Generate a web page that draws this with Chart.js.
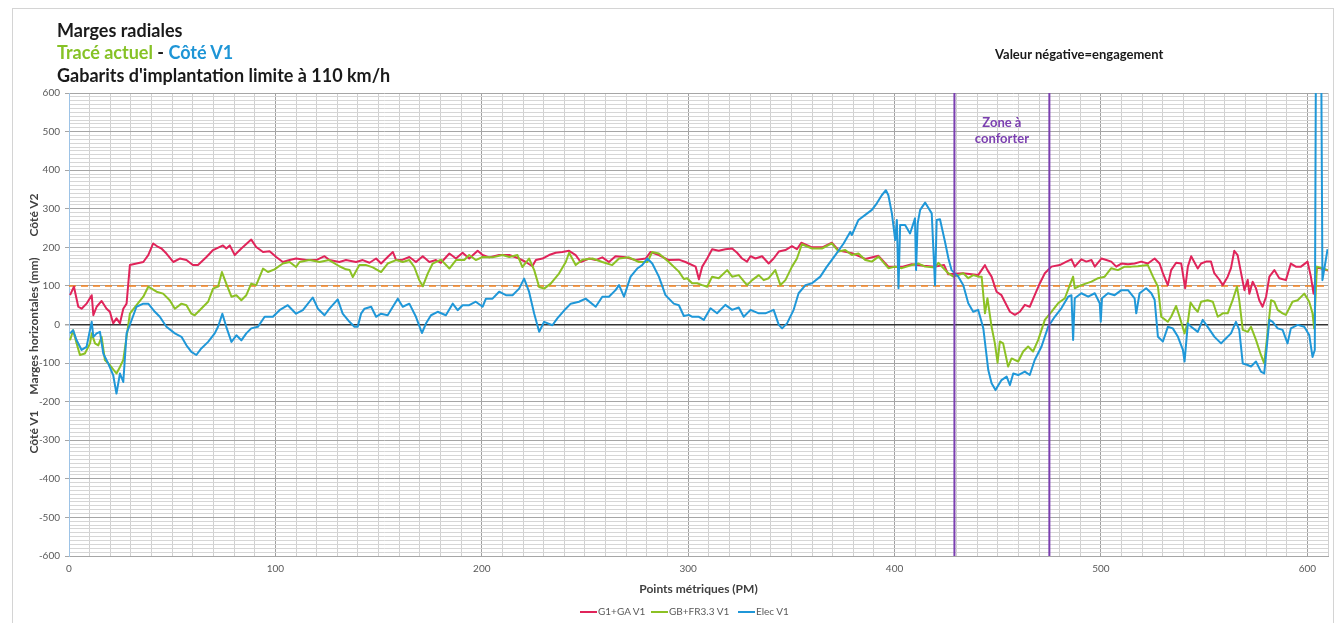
<!DOCTYPE html>
<html>
<head>
<meta charset="utf-8">
<script src="https://cdn.jsdelivr.net/npm/chart.js@4"></script>
<style>
  html, body { margin: 0; padding: 0; background: #fff; }
  #wrap { position: relative; width: 1335px; height: 623px; font-family: Lato, sans-serif; }
  #frame { position: absolute; left: 12px; top: 8px; width: 1320px; height: 620px; border-left: 1px solid #d4d4d4; border-top: 1px solid #d4d4d4; border-right: 1px solid #d4d4d4; }
  .title { position: absolute; left: 57px; font-weight: bold; font-size: 18px; line-height: 22px; color: #1a1a1a; white-space: nowrap; }
  .note { position: absolute; left: 995px; top: 46px; font-weight: bold; font-size: 13px; color: #1a1a1a; }
  .ytitle { position: absolute; font-weight: bold; font-size: 12px; color: #404040; white-space: nowrap; transform: translate(-50%, -50%) rotate(-90deg); }
  .leg { position: absolute; top: 605px; font-size: 10px; color: #595959; white-space: nowrap; line-height: 12px; }
  .leg span { display: inline-block; width: 17px; height: 2px; vertical-align: middle; margin-right: 1px; }
  canvas { position: absolute; left: 0; top: 0; }
</style>
</head>
<body>
<div id="wrap">
  <div id="frame"></div>
  <canvas id="chart" width="1335" height="623"></canvas>
  <div class="title" style="top:19px">Marges radiales</div>
  <div class="title" style="top:41px"><span style="color:#86c226">Tracé actuel</span> - <span style="color:#1e95d6">Côté V1</span></div>
  <div class="title" style="top:64px">Gabarits d'implantation limite à 110 km/h</div>
  <div class="note">Valeur négative=engagement</div>
  <div class="ytitle" style="left:33px; top:215px">Côté V2</div>
  <div class="ytitle" style="left:33px; top:326px">Marges horizontales (mm)</div>
  <div class="ytitle" style="left:33px; top:432px">Côté V1</div>
  <div class="leg" style="left:580px"><span style="background:#e0245a"></span>G1+GA V1</div>
  <div class="leg" style="left:651px"><span style="background:#8cc124"></span>GB+FR3.3 V1</div>
  <div class="leg" style="left:738px"><span style="background:#1f97d8"></span>Elec V1</div>
</div>
<script>
// axis ranges
const xMin = 0, xMax = 610;
const yMin = -600, yMax = 600;
const threshold = 100;
const zoneStart = 429, zoneEnd = 475;

// G1+GA V1
const redPM = [0.5, 2.4, 4.5, 6.1, 8.5, 11, 11.8, 13.4, 15.8, 18.2, 19.8, 21.4, 23, 24.7, 26.3, 27.9, 29.5, 32.7, 36, 38.4,
  40.8, 43.2, 44.8, 47.2, 50.5, 53.7, 56.9, 60, 62.5, 66.6, 69.8, 74.6, 76.2, 77.9, 80.3, 83.5, 88.3, 90.7, 94, 97.2,
  100.4, 103.6, 106.9, 110, 114.9, 119.8, 123.8, 126.2, 131, 134.2, 139.1, 142.3, 145.6, 148.8, 151.2, 154.4, 156.9, 158.5, 161.7, 164.9,
  168.1, 171.4, 174.6, 177.8, 180.2, 184.3, 187.5, 190.7, 193.9, 198, 200.4, 203.6, 208.4, 213.3, 218.1, 221.3, 224.5, 226.2, 229.4, 232.6,
  235.8, 239, 242.3, 245.5, 247.9, 252, 255.2, 258.4, 261.6, 264.8, 269.7, 274.5, 279.4, 281.8, 285.8, 290.6, 295.5, 298.7, 303.6, 305.2,
  306.8, 309.2, 311.6, 314.8, 318, 321.3, 323.7, 326.1, 328.5, 330.2, 332.6, 335.8, 339, 341.4, 343.9, 347.1, 350.3, 352.7, 354.8, 360,
  365, 369.6, 372.9, 379.3, 385.8, 392.2, 397, 404, 408.3, 414, 419.6, 424, 426, 433, 440.5, 443.8, 445, 447, 449.4, 451.8,
  453.4, 455.9, 458.3, 460.7, 463.1, 465.5, 467.9, 470.4, 472.8, 476, 480, 483.3, 485.7, 487.3, 490.5, 492.9, 495.4, 497, 500.2, 502.6,
  505, 507.4, 509.9, 513.1, 516.3, 519.5, 522.7, 526, 528.4, 530, 532.4, 534, 536.4, 538.9, 540.8, 542.1, 543.7, 546.9, 548.5, 550.9,
  553.3, 554.9, 557.4, 559, 561.4, 563, 564.6, 566.2, 567.9, 569.5, 571.1, 571.9, 573.5, 575.1, 576.7, 578.3, 580, 581.6, 584, 586.4,
  589.6, 592, 594.4, 596.9, 600.1, 601.7, 603, 604.6, 610];
const redVal = [76, 98, 46, 41, 54, 76, 24, 46, 61, 41, 33, 3, 16, 3, 41, 54, 154, 158, 162, 180,
  210, 201, 197, 184, 162, 171, 167, 154, 154, 175, 193, 205, 197, 205, 180, 197, 220, 201, 188, 190,
  175, 162, 167, 171, 167, 167, 177, 167, 162, 167, 162, 167, 160, 171, 158, 175, 188, 167, 168, 175,
  162, 177, 162, 167, 160, 184, 171, 186, 171, 191, 180, 174, 180, 180, 171, 162, 151, 167, 171, 180,
  186, 188, 191, 180, 162, 171, 167, 174, 162, 177, 174, 167, 171, 188, 180, 167, 168, 162, 150, 117,
  150, 171, 195, 191, 195, 197, 186, 171, 163, 177, 171, 177, 158, 171, 189, 193, 203, 195, 212, 200,
  200, 212, 192, 185, 170, 178, 150, 150, 156, 152, 150, 154, 130, 133, 128, 154, 141, 124, 85, 76,
  59, 33, 25, 33, 51, 46, 76, 107, 133, 150, 154, 163, 169, 150, 169, 163, 167, 150, 171, 167,
  163, 150, 158, 156, 158, 163, 158, 171, 158, 133, 102, 141, 160, 158, 94, 150, 177, 145, 158, 163,
  163, 133, 116, 102, 124, 146, 191, 180, 133, 89, 116, 80, 111, 94, 63, 46, 72, 124, 141, 120,
  115, 158, 150, 150, 163, 124, 80, 148, 140];

// GB+FR3.3 V1
const greenPM = [0.5, 2, 3.7, 5.3, 7.7, 10.2, 11, 12.6, 14.2, 15.8, 17.4, 19.8, 23, 24.7, 26.3, 27.9, 29.5, 32.7, 36, 38.4,
  42.4, 45.6, 48.8, 51.3, 54.5, 56.9, 59.3, 60.9, 65, 67.4, 69.8, 72.2, 74.1, 76.2, 78.7, 81.1, 83.5, 85.9, 88.3, 90.7,
  94, 96.4, 99.6, 103.6, 106.9, 110, 111.7, 116.5, 121.4, 126, 131, 134.2, 136, 137.5, 140.7, 144, 147.2, 151.2, 154.4, 158.5,
  161.7, 164.9, 167.3, 169.7, 171.4, 173.8, 176.2, 180.2, 184.3, 187.5, 191.5, 193.9, 197.1, 200.4, 205.2, 210, 213.3, 217.3, 219.7, 222.9,
  225.4, 227.8, 230.2, 233.4, 237.4, 240.7, 242.3, 245.5, 248.7, 253.6, 258.4, 263.2, 266.5, 271.3, 276.1, 280.2, 282.6, 285.8, 290.6, 295.5,
  297.9, 299.5, 301.9, 304.3, 306.8, 309.2, 311.6, 314.8, 318.9, 321.3, 324.5, 328.5, 331, 334.2, 336.6, 339, 342.2, 344.7, 347.1, 350.3,
  352.7, 355.1, 360, 364.8, 369.6, 372.9, 376.1, 379.3, 382.5, 385.8, 389, 392.2, 397, 400.3, 403.5, 408.3, 411.6, 414.8, 419.6, 421.2,
  423.6, 426, 428.5, 430.9, 433.3, 435.7, 438.1, 440.5, 442.2, 443.8, 445, 447, 448.6, 449.9, 451, 452.6, 455, 456.7, 459.9, 462.3,
  464.7, 467.1, 469.6, 472.8, 476, 479.2, 482.5, 484.9, 486.5, 487.3, 490.5, 495.4, 498.6, 501.8, 505, 508.2, 511.5, 514.7, 517.9, 522.7,
  525.2, 527.6, 529.2, 532.4, 534, 536.4, 538.1, 540.5, 542.1, 543.4, 545.3, 546.9, 548.5, 551.7, 554.2, 556.6, 559, 561.4, 563.8, 565.9,
  567, 568.7, 571.1, 572.7, 575.1, 577.5, 579.1, 580.7, 582.4, 584, 585.6, 588, 589.6, 592.8, 595.3, 598.5, 600.9, 602.5, 603.3, 604.6,
  607.3, 609.8];
const greenVal = [-41, -15, -49, -79, -75, -49, -23, -49, -54, -32, -92, -105, -127, -110, -92, -32, 28, 50, 72, 98,
  85, 80, 63, 41, 54, 50, 28, 24, 46, 59, 93, 98, 136, 106, 72, 76, 63, 76, 106, 102,
  145, 136, 143, 158, 162, 149, 162, 167, 162, 167, 151, 143, 141, 123, 154, 154, 148, 136, 158, 167,
  162, 167, 149, 115, 99, 132, 158, 168, 145, 167, 167, 180, 167, 175, 174, 180, 175, 180, 149, 171,
  141, 97, 93, 106, 132, 162, 186, 154, 168, 171, 162, 154, 171, 174, 162, 162, 188, 184, 162, 137,
  118, 120, 107, 107, 102, 98, 124, 120, 141, 124, 128, 102, 115, 128, 115, 120, 141, 102, 115, 150,
  171, 208, 197, 197, 210, 189, 193, 180, 184, 167, 163, 176, 146, 150, 146, 154, 158, 150, 148, 160,
  146, 133, 124, 128, 133, 120, 128, 124, 124, 29, 68, -6, -49, -99, -44, -49, -109, -88, -96, -70,
  -57, -70, -40, 12, 33, 55, 68, 102, 124, 94, 102, 111, 120, 124, 146, 141, 150, 150, 151, 154,
  124, 98, 20, 7, 20, 48, 20, -23, 7, 57, 42, 33, 59, 63, 59, 20, 29, 29, 63, 98,
  63, -14, -19, -6, -40, -79, -101, -23, 63, 59, 38, 29, 25, 59, 63, 80, 59, 29, -10, 150,
  146, 141];

// Elec V1 (the spike near PM 605 runs off the top of the chart)
const bluePM = [0.5, 2, 3.7, 6.1, 8.5, 11, 11.8, 13.4, 15, 16.6, 19, 21.4, 23, 24.7, 26.3, 27.9, 30.3, 32.7, 36, 38.4,
  41.6, 44, 47.2, 51.3, 54.5, 56.9, 59.3, 61.7, 64.1, 67.4, 70.6, 72.2, 74.3, 76.2, 78.7, 81.1, 83.5, 85.9, 88.3, 91.5,
  94.8, 98.8, 102, 106, 110, 113.3, 118.1, 120.6, 123.8, 126.2, 130.2, 132.6, 135.9, 138.3, 139.9, 141.5, 143.2, 146.4, 148.8, 151.2,
  154.4, 156.9, 159.3, 161.7, 164.9, 168.1, 171, 173, 175.4, 178.6, 182.6, 185.9, 188.3, 190.7, 193.9, 197.1, 200.4, 202, 205.2, 208.4,
  211.7, 214.9, 218.1, 220.5, 222.9, 225.4, 227.8, 230.2, 234.2, 236.6, 240.7, 243.1, 247.1, 250.3, 255.2, 258.4, 261.6, 264.8, 266.5, 268.9,
  272.1, 275.3, 277.7, 280.2, 282.6, 285.8, 289, 293, 295.5, 297.9, 300.3, 302, 305.2, 307.6, 310.8, 314, 318, 321.3, 324.5, 326.9,
  330.2, 334.2, 337.4, 341.4, 343.9, 345.5, 347.9, 351.1, 353.5, 356.8, 360, 364, 367.2, 371.3, 375.3, 378.5, 379.3, 382.5, 385.8, 389,
  391.4, 393.8, 395.8, 397, 398.7, 400.3, 401.1, 401.9, 402.7, 405.1, 407.5, 409.9, 410.4, 411.2, 412.4, 414.8, 418, 419.6, 420.4, 422,
  424.4, 426.1, 427.6, 430.9, 433.3, 435.7, 438.1, 440.5, 443, 445.4, 447, 448.9, 451.8, 454.3, 455.9, 457.5, 459.9, 463.1, 465.5, 467.9,
  471.2, 474.4, 477.6, 480.8, 484.1, 485.7, 486.5, 487.3, 490.5, 493.8, 497, 499.4, 499.9, 500.5, 503.4, 506.6, 509.9, 513.1, 516.3, 517.1,
  518.7, 521.9, 524.4, 526, 527.6, 530, 532.4, 534.8, 537.3, 539.7, 540.5, 542.1, 543.7, 546.9, 549.3, 551.7, 555, 558.2, 559.8, 563,
  565.4, 567, 568.7, 571.1, 572.7, 575.1, 577.5, 579.1, 581.6, 583.2, 585.6, 588, 590.4, 592, 595.3, 598.5, 600.9, 602.5, 603.6, 604.3,
  606.5, 607.3, 609.8];
const blueVal = [-23, -15, -41, -66, -58, 7, -32, -23, -19, -75, -101, -131, -179, -127, -149, -23, 11, 46, 54, 54,
  33, 20, -6, -23, -32, -54, -71, -79, -62, -45, -23, -6, 28, -6, -45, -28, -41, -23, -10, -6,
  20, 20, 37, 50, 28, 37, 70, 41, 24, 41, 65, 28, 7, -6, -6, 28, 41, 46, 20, 28,
  24, 46, 67, 46, 54, 20, -22, 3, 24, 33, 24, 54, 37, 50, 50, 59, 46, 67, 67, 85,
  76, 76, 93, 119, 85, 28, -19, 7, -2, 16, 41, 54, 59, 67, 46, 72, 72, 89, 102, 72,
  124, 145, 154, 171, 158, 124, 76, 54, 50, 22, 25, 20, 20, 12, 42, 29, 51, 38, 44, 20,
  38, 29, 29, 38, -1, -10, 3, 38, 81, 102, 107, 124, 150, 180, 210, 240, 232, 271, 284, 297,
  314, 335, 348, 335, 288, 219, 271, 94, 258, 258, 236, 275, 141, 262, 297, 316, 288, 102, 271, 273,
  215, 171, 141, 124, 102, 55, 33, 38, -10, -118, -152, -170, -144, -135, -157, -127, -131, -122, -131, -92,
  -57, -6, 20, 42, 72, 76, -40, 68, 81, 72, 81, 55, 7, 68, 81, 76, 89, 89, 68, 29,
  81, 94, 81, 64, -32, -44, -6, -10, -32, -66, -96, 3, -6, -19, 12, -6, -32, -49, -40, -23,
  7, -14, -101, -105, -109, -96, -122, -127, 12, 7, -10, -14, -49, -10, -1, -6, -27, -84, -66, 900,
  900, 115, 195];

const toPoints = (pm, val) => pm.map((x, i) => ({ x: x, y: val[i] }));

const zoneLabel = {
  id: 'zoneLabel',
  afterDatasetsDraw(chart) {
    const { ctx, scales } = chart;
    const x = scales.x.getPixelForValue((zoneStart + zoneEnd) / 2);
    ctx.save();
    ctx.fillStyle = '#7b3fb0';
    ctx.font = 'bold 13px Lato';
    ctx.textAlign = 'center';
    ctx.textBaseline = 'middle';
    ctx.fillText('Zone à', x, scales.y.getPixelForValue(522));
    ctx.fillText('conforter', x, scales.y.getPixelForValue(481));
    ctx.restore();
  }
};

Chart.defaults.font.family = 'Lato';
Chart.defaults.color = '#595959';

new Chart(document.getElementById('chart').getContext('2d'), {
  type: 'line',
  data: {
    datasets: [
      { label: 'zone start', data: [{ x: zoneStart, y: yMin }, { x: zoneStart, y: yMax }], borderColor: '#7b3fb0', borderWidth: 2, order: 0 },
      { label: 'zone end', data: [{ x: zoneEnd, y: yMin }, { x: zoneEnd, y: yMax }], borderColor: '#7b3fb0', borderWidth: 2, order: 0 },
      { label: 'Elec V1', data: toPoints(bluePM, blueVal), borderColor: '#1f97d8', borderWidth: 2, order: 1 },
      { label: 'GB+FR3.3 V1', data: toPoints(greenPM, greenVal), borderColor: '#8cc124', borderWidth: 2, order: 2 },
      { label: 'G1+GA V1', data: toPoints(redPM, redVal), borderColor: '#e0245a', borderWidth: 2, order: 3 },
      { label: 'limite', data: [{ x: xMin, y: threshold }, { x: xMax, y: threshold }], borderColor: '#f5821f', borderWidth: 1.5, borderDash: [7, 5], order: 4 }
    ]
  },
  options: {
    responsive: false,
    animation: false,
    layout: { padding: { left: 0, right: 4, top: 93, bottom: 0 } },
    elements: { point: { radius: 0 }, line: { tension: 0, borderJoinStyle: 'round' } },
    plugins: { legend: { display: false }, tooltip: { enabled: false } },
    scales: {
      x: {
        type: 'linear',
        min: xMin,
        max: xMax,
        afterFit: (scale) => { scale.height = 67; },
        border: { color: '#a6a6a6' },
        grid: {
          drawTicks: false,
          color: (c) => c.tick.value % 100 === 0 ? '#a0a0a0' : '#d0d0d0'
        },
        ticks: {
          stepSize: 10,
          autoSkip: false,
          maxRotation: 0,
          padding: 7,
          font: { size: 10 },
          callback: (v) => v % 100 === 0 ? v : ''
        },
        title: {
          display: true,
          text: 'Points métriques (PM)',
          color: '#404040',
          font: { size: 12, weight: 'bold' },
          padding: { top: 0, bottom: 27 }
        }
      },
      y: {
        min: yMin,
        max: yMax,
        afterFit: (scale) => { scale.width = 69; },
        border: { color: '#9dc3e6' },
        grid: {
          tickLength: 4,
          color: (c) => c.tick.value === 0 ? '#333333' : (c.tick.value % 100 === 0 ? '#a6a6a6' : '#d6d6d6'),
          lineWidth: (c) => c.tick.value === 0 ? 1.5 : 1,
          tickColor: (c) => c.tick.value % 100 === 0 ? '#a6a6a6' : 'rgba(0,0,0,0)'
        },
        ticks: {
          stepSize: 10,
          autoSkip: false,
          padding: 5,
          font: { size: 10 },
          callback: (v) => v % 100 === 0 ? v : ''
        }
      }
    }
  },
  plugins: [zoneLabel]
});
</script>
</body>
</html>
